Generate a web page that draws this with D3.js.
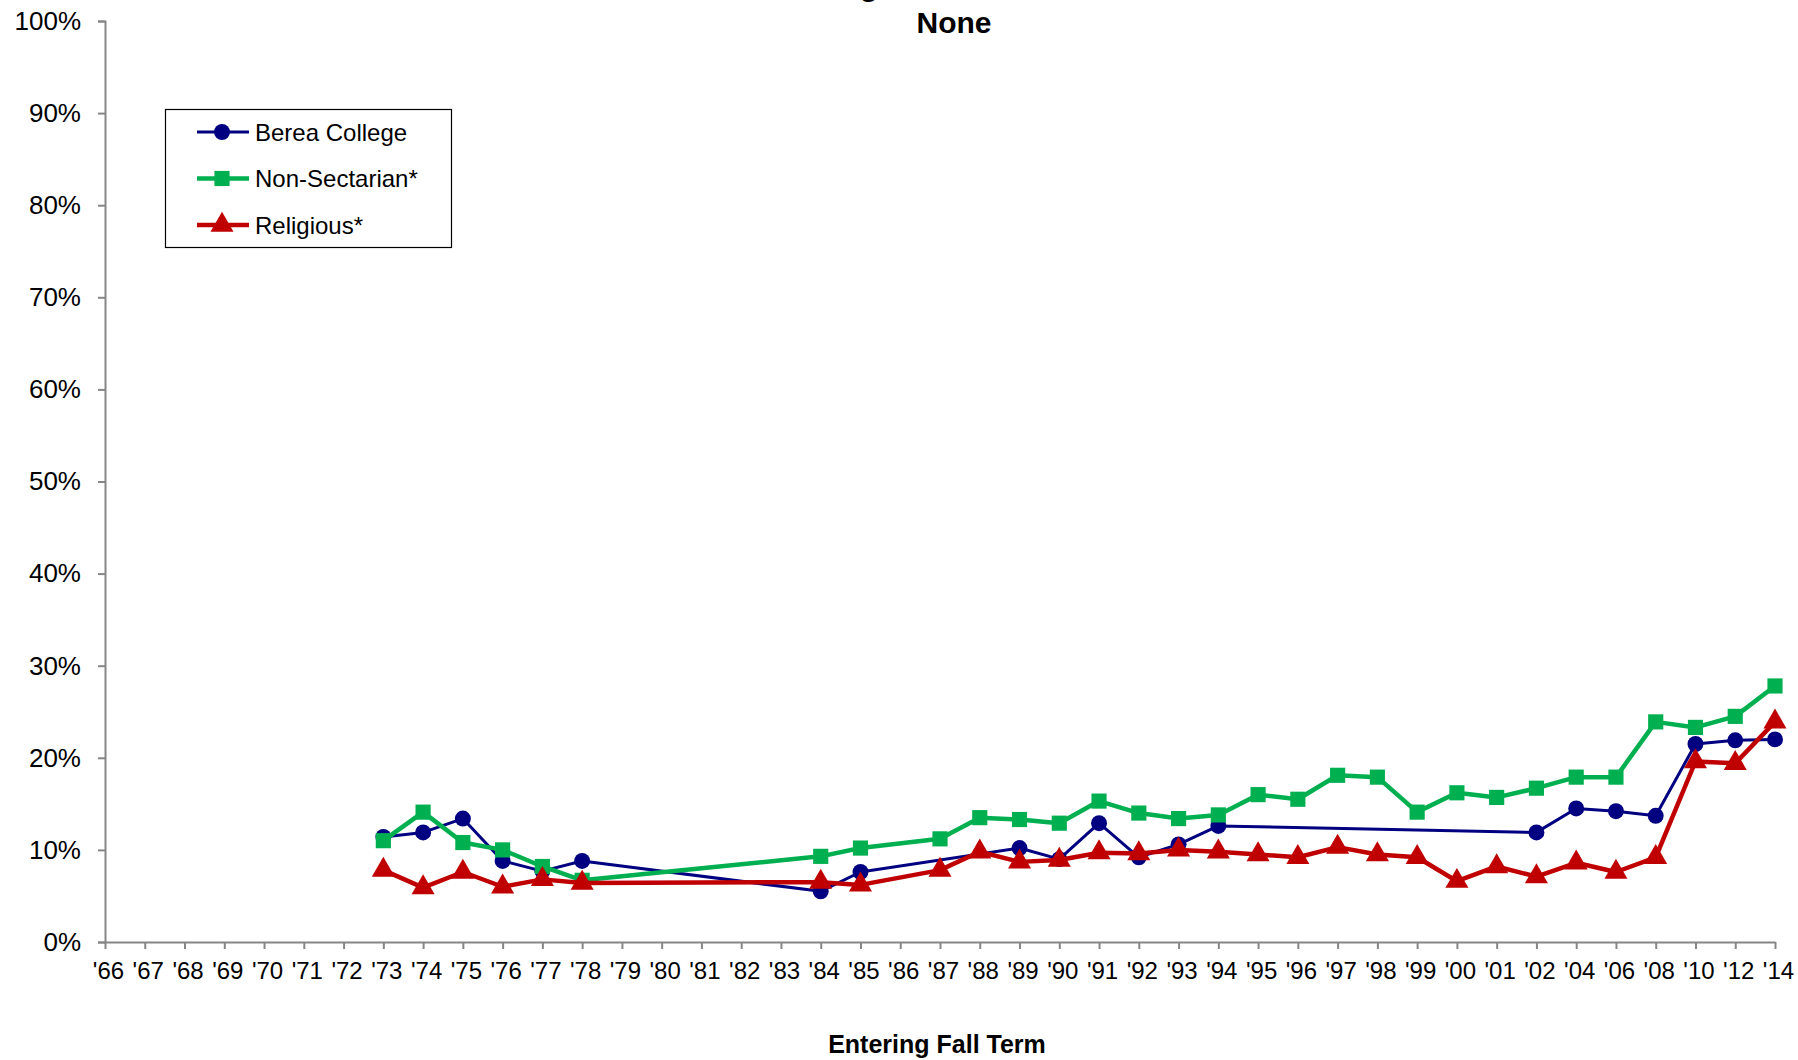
<!DOCTYPE html>
<html>
<head>
<meta charset="utf-8">
<script src="https://cdn.jsdelivr.net/npm/d3@7"></script>
<style>
  html, body { margin: 0; padding: 0; background: #fff; }
  svg { display: block; font-family: "Liberation Sans", Arial, sans-serif; }
</style>
</head>
<body>
<svg id="chart" width="1798" height="1060"></svg>
<script>
// ---- data ----
const categories = ["'66","'67","'68","'69","'70","'71","'72","'73","'74","'75","'76","'77","'78","'79","'80","'81","'82","'83","'84","'85","'86","'87","'88","'89","'90","'91","'92","'93","'94","'95","'96","'97","'98","'99","'00","'01","'02","'04","'06","'08","'10","'12","'14"];

const bereaCollege = [null,null,null,null,null,null,null,11.4,11.9,13.4,8.8,7.7,8.8,null,null,null,null,null,5.5,7.6,null,null,null,10.2,9.0,12.9,9.2,10.6,12.6,null,null,null,null,null,null,null,11.9,14.5,14.2,13.7,21.5,21.9,22.0];
const nonSectarian = [null,null,null,null,null,null,null,11.0,14.1,10.8,10.0,8.2,6.7,null,null,null,null,null,9.3,10.2,null,11.2,13.5,13.3,12.9,15.3,14.0,13.4,13.8,16.0,15.5,18.1,17.9,14.1,16.2,15.7,16.7,17.9,17.9,23.9,23.3,24.5,27.8];
const religious = [null,null,null,null,null,null,null,7.8,5.9,7.6,6.0,6.8,6.4,null,null,null,null,null,6.5,6.2,null,7.8,9.8,8.7,8.9,9.7,9.6,10.0,9.8,9.5,9.2,10.3,9.5,9.2,6.6,8.2,7.1,8.6,7.6,9.2,19.6,19.4,23.9];

const yTicks = [0,10,20,30,40,50,60,70,80,90,100];
const seriesNames = ["Berea College","Non-Sectarian*","Religious*"];
const titleLines = ["Religious Preference","None"];
const xAxisTitle = "Entering Fall Term";

// ---- chart ----
const svg = d3.select("#chart");
const plotLeft = 105, plotRight = 1775, plotTop = 21, plotBottom = 942;

const x = d3.scalePoint().domain(categories).range([plotLeft, plotRight]).padding(0);
const y = d3.scaleLinear().domain([0, 100]).range([plotBottom, plotTop]);

const axisColor = "#868686";

// title
svg.append("text").attr("x", 954).attr("y", -4).attr("text-anchor","middle")
  .attr("font-size", 30).attr("font-weight","bold").attr("fill","#000").text(titleLines[0]);
svg.append("text").attr("x", 954).attr("y", 33).attr("text-anchor","middle")
  .attr("font-size", 30).attr("font-weight","bold").attr("fill","#000").text(titleLines[1]);

// y axis
const yAxis = d3.axisLeft(y).tickValues(yTicks).tickSize(7).tickFormat(d => d + "%");
const gy = svg.append("g").attr("transform", `translate(${plotLeft},0)`).call(yAxis);
gy.select(".domain").attr("stroke", axisColor).attr("stroke-width", 2);
gy.selectAll(".tick line").attr("stroke", axisColor).attr("stroke-width", 2);
gy.selectAll(".tick text").attr("x", -24).attr("font-size", 26).attr("fill","#000")
  .attr("font-family", '"Liberation Sans", Arial, sans-serif');

// x axis
const xAxis = d3.axisBottom(x).tickSize(7).tickSizeOuter(0);
const gx = svg.append("g").attr("transform", `translate(0,${plotBottom})`).call(xAxis);
gx.select(".domain").attr("stroke", axisColor).attr("stroke-width", 2);
gx.selectAll(".tick line").attr("stroke", axisColor).attr("stroke-width", 2);
gx.selectAll(".tick text").attr("y", 20).attr("dx", 3).attr("font-size", 24).attr("fill","#000")
  .attr("font-family", '"Liberation Sans", Arial, sans-serif');

svg.append("text").attr("x", 937).attr("y", 1053).attr("text-anchor","middle")
  .attr("font-size", 25).attr("font-weight","bold").attr("fill","#000").text(xAxisTitle);

// series
const series = [
  { name: seriesNames[0], values: bereaCollege, color: "#000080", width: 3, shape: d3.symbolCircle, size: 200 },
  { name: seriesNames[1], values: nonSectarian, color: "#00B050", width: 4.5, shape: d3.symbolSquare, size: 230 },
  { name: seriesNames[2], values: religious, color: "#C00000", width: 4.5, shape: d3.symbolTriangle, size: 230 }
];

const line = d3.line().x(d => x(d.cat)).y(d => y(d.v));

series.forEach(s => {
  const pts = categories.map((c, i) => ({ cat: c, v: s.values[i] })).filter(d => d.v !== null);
  const g = svg.append("g");
  g.append("path").datum(pts).attr("d", line).attr("fill","none")
    .attr("stroke", s.color).attr("stroke-width", s.width).attr("stroke-linejoin","round");
  g.selectAll("path.m").data(pts).enter().append("path").attr("class","m")
    .attr("transform", d => `translate(${x(d.cat)},${y(d.v)})`)
    .attr("d", d3.symbol().type(s.shape).size(s.size)).attr("fill", s.color);
});

// legend
const lg = svg.append("g");
lg.append("rect").attr("x", 165.5).attr("y", 109.5).attr("width", 286).attr("height", 138)
  .attr("fill","#fff").attr("stroke","#000").attr("stroke-width", 1.2);
series.forEach((s, i) => {
  const cy = 132 + i * 46.5;
  lg.append("line").attr("x1", 197).attr("x2", 249).attr("y1", cy).attr("y2", cy)
    .attr("stroke", s.color).attr("stroke-width", s.width);
  lg.append("path").attr("transform", `translate(222,${cy})`)
    .attr("d", d3.symbol().type(s.shape).size(s.size)).attr("fill", s.color);
  lg.append("text").attr("x", 255).attr("y", cy).attr("dominant-baseline","central")
    .attr("font-size", 24).attr("fill","#000").text(s.name);
});
</script>
</body>
</html>
